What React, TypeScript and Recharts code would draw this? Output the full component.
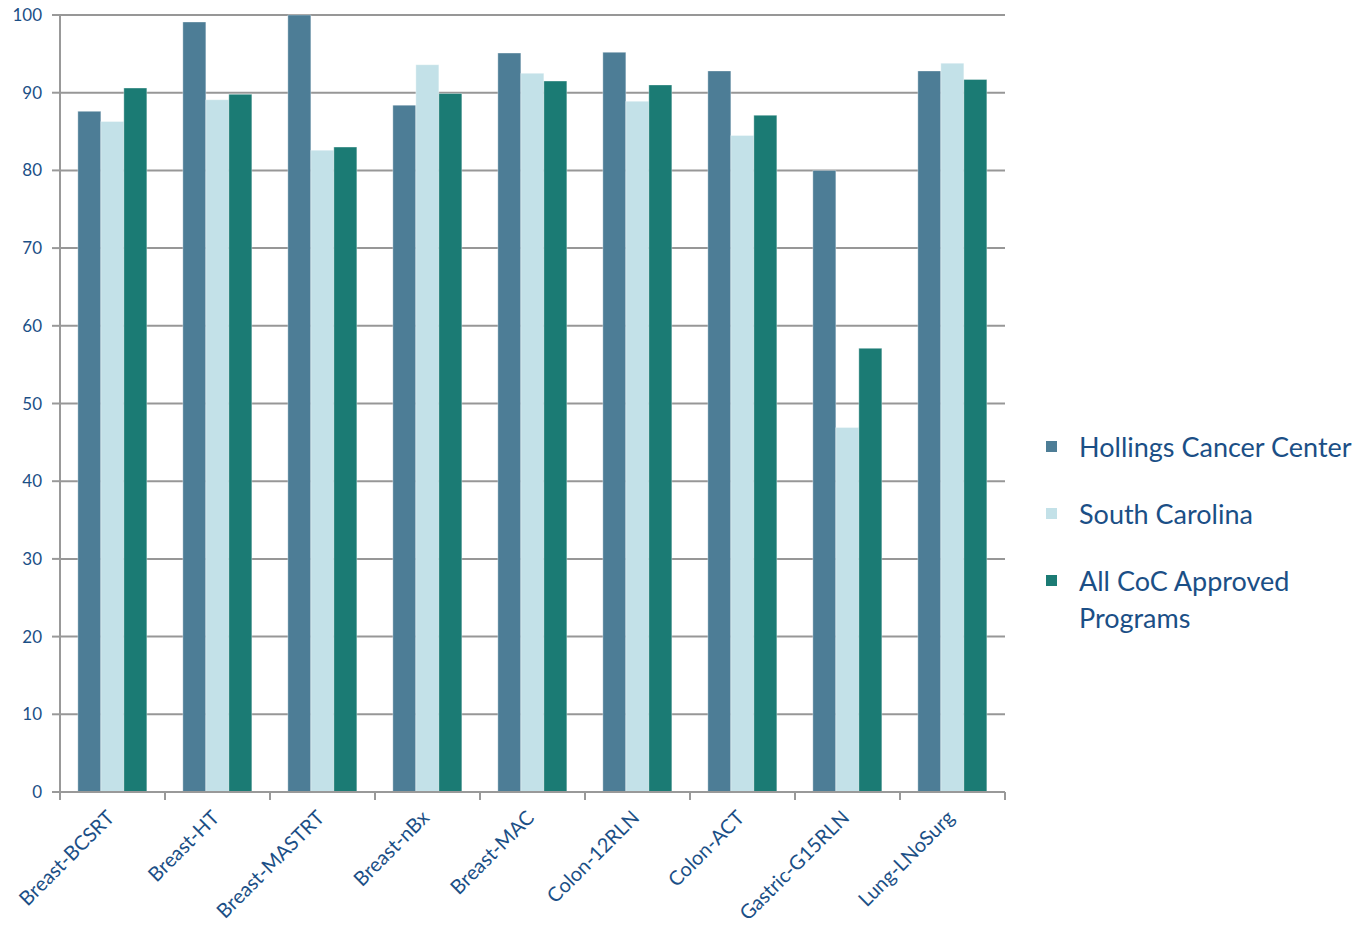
import React from 'react';
import { BarChart, Bar, XAxis, YAxis, CartesianGrid } from 'recharts';

const categories = ['Breast-BCSRT', 'Breast-HT', 'Breast-MASTRT', 'Breast-nBx', 'Breast-MAC', 'Colon-12RLN', 'Colon-ACT', 'Gastric-G15RLN', 'Lung-LNoSurg'];
const hollings = [87.6, 99.1, 100, 88.4, 95.1, 95.2, 92.8, 80.0, 92.8];
const southCarolina = [86.3, 89.1, 82.6, 93.6, 92.5, 88.9, 84.5, 46.9, 93.8];
const allCoc = [90.6, 89.8, 83.0, 89.9, 91.5, 91.0, 87.1, 57.1, 91.7];
const yTicks = [0, 10, 20, 30, 40, 50, 60, 70, 80, 90, 100];

const SERIES = [
  { key: 'hollings', name: 'Hollings Cancer Center', color: '#4d7d96' },
  { key: 'sc', name: 'South Carolina', color: '#c3e1e8' },
  { key: 'all', name: 'All CoC Approved Programs', color: '#1b7b74' },
];

const TEXT = '#1b4f86';
const FONT = 'Lato, "Open Sans", sans-serif';

const data = categories.map((name, i) => ({
  name,
  hollings: hollings[i],
  sc: southCarolina[i],
  all: allCoc[i],
}));

// category ticks sit at band edges, labels at band centres
const XTick = (props: any) => {
  const { x, y, payload, index } = props;
  const off = payload.offset || 0;
  return (
    <g>
      <line x1={x - off} y1={y - 8} x2={x - off} y2={y} stroke="#999" strokeWidth={2} />
      {index === categories.length - 1 && (
        <line x1={x + off} y1={y - 8} x2={x + off} y2={y} stroke="#999" strokeWidth={2} />
      )}
      <text
        x={x + 3}
        y={y + 19}
        textAnchor="end"
        fill={TEXT}
        fontSize={20}
        fontFamily={FONT}
        transform={`rotate(-45, ${x + 3}, ${y + 19})`}
      >
        {payload.value}
      </text>
    </g>
  );
};

const ChartLegend = () => (
  <div style={{ position: 'absolute', left: 1046, top: 428, width: 320, fontFamily: FONT, color: TEXT }}>
    {SERIES.map((s) => (
      <div key={s.key} style={{ display: 'flex', alignItems: 'flex-start', marginBottom: 30 }}>
        <span style={{ width: 11, height: 11, background: s.color, marginTop: 13, marginRight: 22, flexShrink: 0 }} />
        <span style={{ fontSize: 27, lineHeight: '37px', width: 280 }}>{s.name}</span>
      </div>
    ))}
  </div>
);

export default function App() {
  return (
    <div style={{ position: 'absolute', left: 0, top: 0, width: 1368, height: 928, background: '#fff' }}>
      <BarChart
        width={1368}
        height={928}
        data={data}
        margin={{ top: 15, right: 363, bottom: 0, left: 0 }}
        barCategoryGap="17%"
        barGap={0}
      >
        <CartesianGrid vertical={false} stroke="#979797" strokeWidth={2} />
        <XAxis
          dataKey="name"
          height={136}
          interval={0}
          tickLine={false}
          axisLine={{ stroke: '#999', strokeWidth: 2 }}
          tick={<XTick />}
        />
        <YAxis
          domain={[0, 100]}
          ticks={yTicks}
          width={60}
          interval={0}
          axisLine={{ stroke: '#999', strokeWidth: 2 }}
          tickLine={{ stroke: '#999', strokeWidth: 2 }}
          tickSize={8}
          tick={{ fill: TEXT, fontSize: 17, fontFamily: FONT }}
          tickMargin={10}
        />
        <YAxis
          yAxisId="edge"
          orientation="right"
          width={0}
          tick={false}
          tickLine={false}
          axisLine={{ stroke: '#e6e6e6', strokeWidth: 1 }}
        />
        {SERIES.map((s) => (
          <Bar
            key={s.key}
            dataKey={s.key}
            name={s.name}
            fill={s.color}
            stroke="#ffffff"
            strokeOpacity={0.35}
            strokeWidth={1}
            isAnimationActive={false}
          />
        ))}
      </BarChart>
      <ChartLegend />
    </div>
  );
}
